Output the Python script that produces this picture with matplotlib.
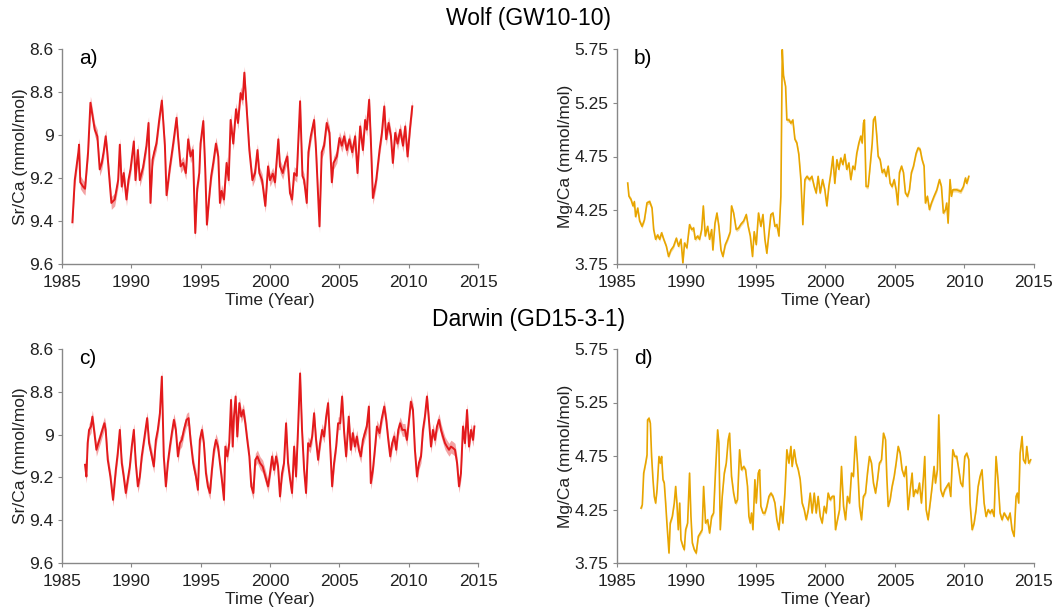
import matplotlib
matplotlib.use("Agg")
import matplotlib.pyplot as plt
import numpy as np

plt.rcParams['font.family'] = ['Liberation Sans', 'DejaVu Sans']

# ---------------- data: Wolf Sr/Ca (panel a) ----------------
wolf_sr_t = [1985.75, 1985.92, 1986.18, 1986.23, 1986.32, 1986.52, 1986.66, 1986.88, 1987.05, 1987.36,
             1987.55, 1987.72, 1987.87, 1988.01, 1988.15, 1988.25, 1988.56, 1988.80, 1989.05, 1989.17,
             1989.31, 1989.45, 1989.65, 1989.79, 1989.94, 1990.18, 1990.30, 1990.47, 1990.61, 1990.85,
             1991.09, 1991.24, 1991.38, 1991.53, 1991.65, 1991.81, 1992.01, 1992.20, 1992.42, 1992.54,
             1992.78, 1993.02, 1993.26, 1993.38, 1993.55, 1993.74, 1993.93, 1994.10, 1994.27, 1994.44,
             1994.61, 1994.75, 1994.90, 1994.99, 1995.19, 1995.33, 1995.45, 1995.62, 1995.76, 1995.91,
             1996.10, 1996.27, 1996.39, 1996.51, 1996.68, 1996.87, 1997.02, 1997.16, 1997.35, 1997.55,
             1997.69, 1997.88, 1998.03, 1998.15, 1998.32, 1998.51, 1998.73, 1998.92, 1999.09, 1999.23,
             1999.43, 1999.66, 1999.86, 2000.00, 2000.20, 2000.36, 2000.60, 2000.72, 2000.92, 2001.09,
             2001.25, 2001.44, 2001.59, 2001.74, 2001.93, 2002.17, 2002.34, 2002.46, 2002.65, 2002.77,
             2002.94, 2003.18, 2003.32, 2003.57, 2003.73, 2003.90, 2004.09, 2004.29, 2004.46, 2004.58,
             2004.82, 2005.01, 2005.18, 2005.35, 2005.54, 2005.73, 2005.93, 2006.14, 2006.31, 2006.50,
             2006.70, 2006.86, 2006.98, 2007.15, 2007.27, 2007.42, 2007.66, 2007.90, 2008.07, 2008.24,
             2008.38, 2008.55, 2008.72, 2008.86, 2009.03, 2009.20, 2009.39, 2009.59, 2009.75, 2009.92,
             2010.11, 2010.26]
wolf_sr_v = [9.406, 9.21, 9.08, 9.045, 9.22, 9.24, 9.25, 9.08, 8.85, 8.975,
             9.006, 9.16, 9.13, 9.076, 9.006, 9.07, 9.316, 9.30, 9.21, 9.045,
             9.24, 9.177, 9.30, 9.21, 9.16, 9.03, 9.21, 9.07, 9.21, 9.15,
             9.05, 8.944, 9.316, 9.115, 9.08, 9.04, 8.93, 8.84, 9.05, 9.28,
             9.15, 9.04, 8.92, 9.02, 9.146, 9.13, 9.177, 9.02, 9.10, 9.07,
             9.456, 9.25, 9.177, 9.04, 8.935, 9.16, 9.417, 9.285, 9.19, 9.13,
             9.04, 9.10, 9.316, 9.26, 9.30, 9.13, 9.21, 8.93, 9.04, 8.88,
             8.944, 8.805, 8.835, 8.71, 8.88, 9.07, 9.21, 9.177, 9.07, 9.177,
             9.21, 9.33, 9.146, 9.21, 9.18, 9.22, 9.02, 9.146, 9.177, 9.13,
             9.10, 9.27, 9.30, 9.177, 9.19, 8.843, 9.19, 9.21, 9.316, 9.08,
             9.006, 8.93, 9.07, 9.425, 9.08, 9.05, 8.944, 8.99, 9.22, 9.13,
             9.10, 9.014, 9.05, 9.006, 9.07, 9.02, 9.08, 9.006, 9.177, 8.96,
             9.07, 8.93, 8.975, 8.836, 9.02, 9.293, 9.21, 9.07, 8.99, 8.867,
             9.02, 8.944, 9.006, 9.13, 8.99, 9.04, 8.975, 9.05, 8.96, 9.10,
             8.96, 8.867]

# ---------------- data: Wolf Mg/Ca (panel b) ----------------
wolf_mg_t = [1985.77, 1985.86, 1986.01, 1986.15, 1986.25, 1986.34, 1986.49, 1986.63, 1986.80, 1986.97,
             1987.16, 1987.35, 1987.52, 1987.64, 1987.78, 1987.92, 1988.07, 1988.21, 1988.36, 1988.55,
             1988.71, 1988.88, 1989.07, 1989.27, 1989.43, 1989.60, 1989.74, 1989.86, 1990.03, 1990.22,
             1990.37, 1990.51, 1990.63, 1990.80, 1990.94, 1991.09, 1991.21, 1991.35, 1991.52, 1991.66,
             1991.81, 1991.90, 1992.05, 1992.19, 1992.33, 1992.48, 1992.62, 1992.79, 1992.96, 1993.15,
             1993.24, 1993.39, 1993.58, 1993.75, 1993.91, 1994.11, 1994.30, 1994.44, 1994.59, 1994.75,
             1994.87, 1995.02, 1995.18, 1995.35, 1995.50, 1995.64, 1995.78, 1995.93, 1996.07, 1996.22,
             1996.36, 1996.50, 1996.65, 1996.79, 1996.89, 1996.98, 1997.13, 1997.22, 1997.37, 1997.51,
             1997.65, 1997.80, 1997.94, 1998.08, 1998.23, 1998.37, 1998.52, 1998.66, 1998.85, 1999.02,
             1999.19, 1999.33, 1999.47, 1999.62, 1999.79, 1999.95, 2000.10, 2000.24, 2000.39, 2000.53,
             2000.67, 2000.82, 2000.96, 2001.10, 2001.25, 2001.39, 2001.53, 2001.68, 2001.82, 2001.97,
             2002.11, 2002.25, 2002.40, 2002.54, 2002.64, 2002.73, 2002.80, 2002.92, 2003.07, 2003.21,
             2003.36, 2003.45, 2003.57, 2003.69, 2003.79, 2003.93, 2004.08, 2004.22, 2004.36, 2004.51,
             2004.65, 2004.79, 2004.94, 2005.08, 2005.20, 2005.32, 2005.47, 2005.61, 2005.75, 2005.90,
             2006.04, 2006.18, 2006.33, 2006.52, 2006.66, 2006.81, 2006.95, 2007.09, 2007.19, 2007.33,
             2007.48, 2007.62, 2007.81, 2008.01, 2008.20, 2008.34, 2008.48, 2008.63, 2008.72, 2008.82,
             2008.96, 2009.06, 2009.16, 2009.44, 2009.73, 2009.92, 2010.07, 2010.16, 2010.31]
wolf_mg_v = [4.503, 4.38, 4.35, 4.29, 4.33, 4.19, 4.27, 4.15, 4.10, 4.16,
             4.32, 4.33, 4.27, 4.07, 3.98, 4.02, 3.98, 4.04, 3.98, 3.915,
             3.82, 3.88, 3.915, 3.99, 3.915, 3.98, 3.76, 3.945, 3.90, 4.116,
             4.07, 4.085, 3.98, 4.01, 3.98, 4.07, 4.29, 4.01, 4.10, 3.98,
             4.07, 3.88, 4.13, 4.224, 4.10, 3.88, 3.82, 3.93, 3.98, 4.05,
             4.29, 4.224, 4.07, 4.085, 4.12, 4.15, 4.21, 4.10, 4.01, 3.82,
             4.05, 3.93, 4.224, 4.10, 4.21, 3.98, 3.85, 4.04, 4.21, 4.224,
             4.10, 4.116, 4.01, 4.38, 5.744, 5.50, 5.40, 5.09, 5.09, 5.06,
             5.09, 4.91, 4.875, 4.77, 4.535, 4.116, 4.535, 4.565, 4.535, 4.565,
             4.47, 4.41, 4.565, 4.41, 4.535, 4.44, 4.29, 4.47, 4.60, 4.75,
             4.50, 4.72, 4.63, 4.735, 4.675, 4.77, 4.63, 4.69, 4.535, 4.66,
             4.63, 4.78, 4.875, 4.94, 4.875, 5.06, 5.09, 4.47, 4.47, 4.66,
             4.875, 5.09, 5.12, 4.94, 4.75, 4.72, 4.60, 4.63, 4.565, 4.66,
             4.50, 4.47, 4.535, 4.44, 4.30, 4.60, 4.66, 4.60, 4.41, 4.38,
             4.44, 4.60, 4.66, 4.78, 4.83, 4.815, 4.72, 4.66, 4.317, 4.38,
             4.256, 4.317, 4.38, 4.44, 4.535, 4.47, 4.224, 4.256, 4.317, 4.13,
             4.535, 4.38, 4.44, 4.44, 4.425, 4.47, 4.55, 4.50, 4.565]

# ---------------- data: Darwin Sr/Ca (panel c) ----------------
darwin_sr_t = [1986.66, 1986.76, 1986.85, 1986.95, 1987.09, 1987.19, 1987.31, 1987.48, 1987.62, 1987.77,
               1987.91, 1988.06, 1988.15, 1988.30, 1988.49, 1988.68, 1988.88, 1989.02, 1989.17, 1989.31,
               1989.45, 1989.60, 1989.74, 1989.89, 1990.03, 1990.18, 1990.32, 1990.47, 1990.61, 1990.75,
               1990.95, 1991.14, 1991.28, 1991.48, 1991.62, 1991.77, 1991.91, 1992.06, 1992.20, 1992.34,
               1992.49, 1992.63, 1992.78, 1992.92, 1993.07, 1993.21, 1993.36, 1993.50, 1993.64, 1993.79,
               1993.98, 1994.13, 1994.27, 1994.46, 1994.66, 1994.80, 1994.94, 1995.09, 1995.23, 1995.38,
               1995.52, 1995.67, 1995.81, 1995.96, 1996.10, 1996.25, 1996.39, 1996.53, 1996.68, 1996.78,
               1996.92, 1997.06, 1997.19, 1997.31, 1997.40, 1997.52, 1997.64, 1997.79, 1997.93, 1998.08,
               1998.22, 1998.36, 1998.51, 1998.65, 1998.80, 1998.94, 1999.09, 1999.28, 1999.47, 1999.67,
               1999.86, 2000.00, 2000.15, 2000.29, 2000.44, 2000.58, 2000.72, 2000.87, 2001.01, 2001.16,
               2001.30, 2001.45, 2001.59, 2001.74, 2001.88, 2002.02, 2002.17, 2002.31, 2002.46, 2002.60,
               2002.75, 2002.89, 2003.04, 2003.18, 2003.32, 2003.47, 2003.61, 2003.76, 2003.90, 2004.05,
               2004.19, 2004.34, 2004.48, 2004.62, 2004.77, 2004.91, 2005.06, 2005.20, 2005.35, 2005.49,
               2005.68, 2005.83, 2005.97, 2006.12, 2006.26, 2006.41, 2006.55, 2006.70, 2006.84, 2006.98,
               2007.13, 2007.27, 2007.42, 2007.56, 2007.71, 2007.90, 2008.04, 2008.24, 2008.38, 2008.53,
               2008.67, 2008.81, 2008.96, 2009.10, 2009.25, 2009.39, 2009.54, 2009.73, 2009.87, 2010.02,
               2010.16, 2010.31, 2010.45, 2010.60, 2010.74, 2010.89, 2011.03, 2011.17, 2011.32, 2011.46,
               2011.61, 2011.75, 2011.90, 2012.04, 2012.19, 2012.33, 2012.47, 2012.62, 2012.76, 2012.91,
               2013.05, 2013.20, 2013.34, 2013.49, 2013.63, 2013.77, 2013.92, 2014.06, 2014.21, 2014.35,
               2014.50, 2014.64, 2014.74]
darwin_sr_v = [9.141, 9.196, 9.04, 8.978, 8.962, 8.916, 8.978, 9.071, 9.04, 9.009,
               8.978, 8.947, 8.978, 9.118, 9.196, 9.305, 9.165, 9.087, 8.978, 9.133,
               9.196, 9.273, 9.211, 9.149, 9.056, 8.978, 9.133, 9.242, 9.196, 9.102,
               9.009, 8.923, 9.04, 9.102, 9.149, 9.025, 8.978, 8.90, 8.729, 9.102,
               9.242, 9.133, 9.056, 8.993, 8.931, 8.978, 9.102, 9.04, 9.025, 8.978,
               8.931, 8.923, 9.025, 9.133, 9.196, 9.258, 9.025, 8.978, 9.04, 9.18,
               9.242, 9.273, 9.165, 9.071, 9.025, 9.056, 9.133, 9.211, 9.305, 9.056,
               9.102, 9.04, 8.838, 9.056, 8.916, 8.822, 9.009, 8.853, 8.916, 8.885,
               8.947, 9.025, 9.102, 9.242, 9.273, 9.118, 9.102, 9.133, 9.149, 9.196,
               9.242, 9.18, 9.102, 9.165, 9.102, 9.149, 9.289, 9.18, 9.133, 8.947,
               9.133, 9.211, 9.273, 9.056, 9.196, 8.978, 8.714, 8.978, 9.165, 9.273,
               9.04, 9.056, 9.009, 8.90, 9.025, 9.118, 9.04, 8.978, 9.009, 8.916,
               8.853, 9.056, 9.242, 9.133, 9.056, 8.947, 8.947, 8.822, 8.993, 9.102,
               8.916, 9.071, 8.993, 9.056, 9.009, 9.071, 9.102, 9.025, 8.993, 8.962,
               8.869, 9.227, 9.165, 9.071, 8.962, 8.993, 8.931, 8.869, 8.931, 9.025,
               9.102, 9.04, 9.009, 9.071, 8.978, 8.947, 8.978, 8.978, 9.025, 8.931,
               8.846, 8.885, 9.071, 9.196, 9.133, 9.102, 8.978, 8.916, 8.822, 8.931,
               9.056, 8.978, 9.025, 8.962, 8.931, 8.978, 9.009, 9.04, 9.056, 9.071,
               9.056, 9.063, 9.071, 9.133, 9.242, 9.18, 8.962, 9.04, 8.885, 9.056,
               8.978, 9.025, 8.962]

# ---------------- data: Darwin Mg/Ca (panel d) ----------------
darwin_mg_t = [1986.73, 1986.82, 1986.92, 1987.06, 1987.16, 1987.20, 1987.30, 1987.40, 1987.49, 1987.59,
               1987.68, 1987.78, 1987.88, 1988.02, 1988.12, 1988.21, 1988.31, 1988.40, 1988.50, 1988.59,
               1988.74, 1988.83, 1988.98, 1989.12, 1989.22, 1989.31, 1989.41, 1989.51, 1989.60, 1989.74,
               1989.84, 1989.94, 1990.08, 1990.22, 1990.32, 1990.42, 1990.56, 1990.70, 1990.85, 1990.99,
               1991.13, 1991.23, 1991.37, 1991.52, 1991.66, 1991.81, 1991.95, 1992.09, 1992.24, 1992.33,
               1992.43, 1992.57, 1992.72, 1992.86, 1993.00, 1993.10, 1993.24, 1993.39, 1993.53, 1993.67,
               1993.82, 1993.96, 1994.11, 1994.25, 1994.39, 1994.49, 1994.59, 1994.68, 1994.78, 1994.92,
               1995.02, 1995.16, 1995.26, 1995.35, 1995.50, 1995.64, 1995.78, 1995.93, 1996.07, 1996.22,
               1996.36, 1996.50, 1996.65, 1996.79, 1996.93, 1997.08, 1997.22, 1997.37, 1997.51, 1997.60,
               1997.75, 1997.89, 1998.04, 1998.18, 1998.32, 1998.47, 1998.61, 1998.76, 1998.90, 1999.04,
               1999.19, 1999.33, 1999.47, 1999.62, 1999.76, 1999.91, 2000.05, 2000.19, 2000.34, 2000.48,
               2000.62, 2000.72, 2000.86, 2001.01, 2001.15, 2001.30, 2001.44, 2001.58, 2001.73, 2001.87,
               2002.01, 2002.16, 2002.30, 2002.45, 2002.59, 2002.73, 2002.88, 2003.02, 2003.16, 2003.31,
               2003.45, 2003.60, 2003.74, 2003.88, 2004.03, 2004.17, 2004.32, 2004.41, 2004.51, 2004.65,
               2004.79, 2004.94, 2005.08, 2005.23, 2005.37, 2005.51, 2005.66, 2005.80, 2005.94, 2006.09,
               2006.23, 2006.33, 2006.47, 2006.62, 2006.76, 2006.90, 2007.05, 2007.14, 2007.24, 2007.38,
               2007.53, 2007.67, 2007.81, 2007.91, 2008.05, 2008.15, 2008.29, 2008.44, 2008.58, 2008.72,
               2008.87, 2009.01, 2009.16, 2009.30, 2009.44, 2009.59, 2009.73, 2009.87, 2010.02, 2010.16,
               2010.31, 2010.40, 2010.55, 2010.69, 2010.83, 2010.98, 2011.12, 2011.26, 2011.41, 2011.55,
               2011.70, 2011.84, 2011.98, 2012.13, 2012.27, 2012.41, 2012.56, 2012.70, 2012.85, 2012.99,
               2013.13, 2013.28, 2013.42, 2013.57, 2013.71, 2013.80, 2013.90, 2014.00, 2014.14, 2014.24,
               2014.38, 2014.48, 2014.62, 2014.76]
darwin_mg_v = [4.263, 4.294, 4.59, 4.683, 4.76, 5.087, 5.103, 5.056, 4.745, 4.528,
               4.372, 4.31, 4.434, 4.745, 4.683, 4.745, 4.528, 4.497, 4.31, 4.123,
               3.843, 4.123, 4.185, 4.31, 4.465, 4.31, 4.061, 4.31, 3.968, 3.906,
               3.874, 4.061, 4.123, 4.59, 4.185, 3.937, 3.874, 3.843, 3.999, 4.03,
               4.061, 4.465, 4.123, 4.154, 4.03, 4.185, 4.217, 4.621, 4.994, 4.87,
               4.061, 4.372, 4.59, 4.683, 4.90, 4.963, 4.559, 4.403, 4.31, 4.341,
               4.808, 4.621, 4.652, 4.621, 4.465, 4.185, 4.123, 4.217, 4.061, 4.528,
               4.31, 4.59, 4.621, 4.279, 4.217, 4.217, 4.279, 4.372, 4.403, 4.372,
               4.31, 4.154, 4.061, 4.279, 4.123, 4.403, 4.808, 4.683, 4.839, 4.652,
               4.808, 4.683, 4.621, 4.528, 4.31, 4.248, 4.154, 4.248, 4.403, 4.217,
               4.403, 4.217, 4.372, 4.185, 4.123, 4.279, 4.217, 4.403, 4.341, 4.372,
               4.372, 4.061, 4.154, 4.248, 4.652, 4.279, 4.154, 4.372, 4.31, 4.59,
               4.559, 4.932, 4.683, 4.279, 4.154, 4.372, 4.403, 4.59, 4.745, 4.683,
               4.497, 4.403, 4.528, 4.683, 4.714, 4.963, 4.901, 4.559, 4.279, 4.341,
               4.465, 4.559, 4.683, 4.839, 4.776, 4.621, 4.559, 4.652, 4.248, 4.434,
               4.59, 4.372, 4.434, 4.403, 4.497, 4.31, 4.559, 4.745, 4.248, 4.154,
               4.31, 4.465, 4.652, 4.497, 4.621, 5.134, 4.434, 4.372, 4.434, 4.465,
               4.497, 4.372, 4.808, 4.745, 4.745, 4.621, 4.497, 4.465, 4.745, 4.776,
               4.714, 4.31, 4.061, 4.123, 4.248, 4.465, 4.559, 4.621, 4.31, 4.185,
               4.248, 4.217, 4.248, 4.185, 4.745, 4.528, 4.217, 4.154, 4.217, 4.185,
               4.154, 4.217, 4.061, 3.999, 4.372, 4.403, 4.31, 4.776, 4.932, 4.714,
               4.683, 4.839, 4.683, 4.714]

sr_err = 0.03    # half-width of shaded Sr/Ca uncertainty band (mmol/mol)
mg_err = 0.02    # half-width of shaded Mg/Ca uncertainty band (mmol/mol)

x_ticks = [1985, 1990, 1995, 2000, 2005, 2010, 2015]
sr_ticks = [8.6, 8.8, 9.0, 9.2, 9.4, 9.6]
sr_ticklabels = ['8.6', '8.8', '9', '9.2', '9.4', '9.6']
mg_ticks = [3.75, 4.25, 4.75, 5.25, 5.75]
mg_ticklabels = ['3.75', '4.25', '4.75', '5.25', '5.75']

RED = '#e31a1c'
GOLD = '#e8a500'
SPINE = '#888888'

fig = plt.figure(figsize=(10.58, 6.16), dpi=100)

W, H = 1058, 616
def ax_at(l, r, t, b):
    return fig.add_axes([l / W, 1 - b / H, (r - l) / W, (b - t) / H])

axa = ax_at(62, 478, 49, 264)
axb = ax_at(617, 1034, 49, 264)
axc = ax_at(62, 478, 349, 563)
axd = ax_at(617, 1034, 349, 563)

def style(ax, label, ylabel, yt, ytl, ylim, invert):
    for s in ['top', 'right']:
        ax.spines[s].set_visible(False)
    for s in ['left', 'bottom']:
        ax.spines[s].set_color(SPINE)
        ax.spines[s].set_linewidth(1.0)
    ax.set_xlim(1985, 2015)
    ax.set_xticks(x_ticks)
    ax.set_yticks(yt)
    ax.set_yticklabels(ytl)
    if invert:
        ax.set_ylim(ylim[1], ylim[0])
    else:
        ax.set_ylim(ylim[0], ylim[1])
    ax.tick_params(axis='both', direction='out', length=3, width=0.8, color=SPINE,
                   labelsize=12.5, labelcolor='#222222')
    ax.tick_params(axis='x', pad=5)
    ax.tick_params(axis='y', pad=3)
    ax.set_xlabel('Time (Year)', fontsize=12.5, color='#222222', labelpad=2)
    ax.set_ylabel(ylabel, fontsize=12.5, color='#222222', labelpad=1)
    ax.text(0.04, 1.0, label, transform=ax.transAxes, fontsize=15, va='top', ha='left', color='black')

def draw(ax, t, v, err, color, lw):
    t = np.asarray(t); v = np.asarray(v)
    ax.fill_between(t, v - err, v + err, color=color, alpha=0.4, linewidth=0)
    ax.plot(t, v, color=color, linewidth=lw)

draw(axa, wolf_sr_t, wolf_sr_v, sr_err, RED, 1.4)
draw(axb, wolf_mg_t, wolf_mg_v, mg_err, GOLD, 1.2)
draw(axc, darwin_sr_t, darwin_sr_v, sr_err, RED, 1.4)
draw(axd, darwin_mg_t, darwin_mg_v, mg_err, GOLD, 1.2)

style(axa, 'a)', 'Sr/Ca (mmol/mol)', sr_ticks, sr_ticklabels, (8.6, 9.6), True)
style(axb, 'b)', 'Mg/Ca (mmol/mol)', mg_ticks, mg_ticklabels, (3.75, 5.75), False)
style(axc, 'c)', 'Sr/Ca (mmol/mol)', sr_ticks, sr_ticklabels, (8.6, 9.6), True)
style(axd, 'd)', 'Mg/Ca (mmol/mol)', mg_ticks, mg_ticklabels, (3.75, 5.75), False)

fig.text(0.5, 1 - 18 / H, 'Wolf (GW10-10)', ha='center', va='center', fontsize=16.5)
fig.text(0.5, 1 - 320 / H, 'Darwin (GD15-3-1)', ha='center', va='center', fontsize=16.5)

fig.savefig('out.png', dpi=100)
